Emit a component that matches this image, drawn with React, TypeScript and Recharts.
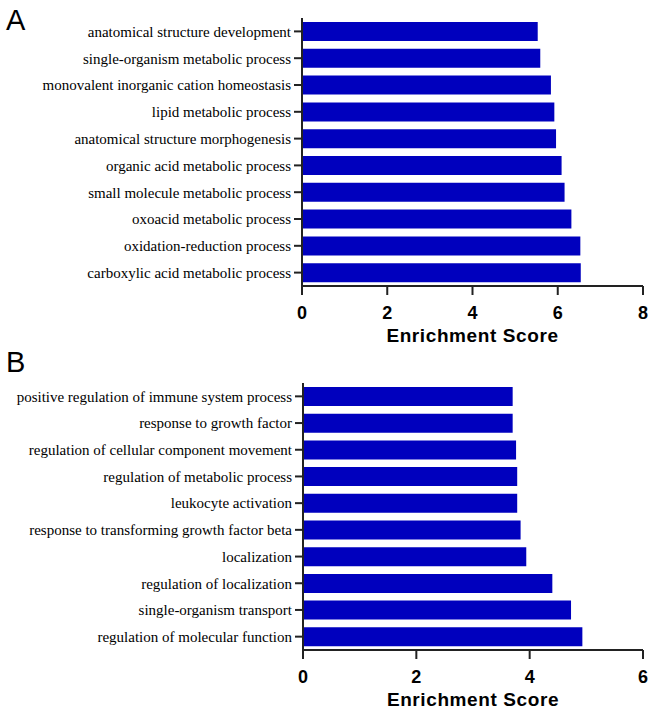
import React from 'react';
import { BarChart, Bar, XAxis, YAxis } from 'recharts';

const categoriesA = [
  'anatomical structure development',
  'single-organism metabolic process',
  'monovalent inorganic cation homeostasis',
  'lipid metabolic process',
  'anatomical structure morphogenesis',
  'organic acid metabolic process',
  'small molecule metabolic process',
  'oxoacid metabolic process',
  'oxidation-reduction process',
  'carboxylic acid metabolic process',
];
const scoresA = [5.53, 5.59, 5.84, 5.92, 5.96, 6.09, 6.16, 6.32, 6.53, 6.54];
const ticksA = [0, 2, 4, 6, 8];

const categoriesB = [
  'positive regulation of immune system process',
  'response to growth factor',
  'regulation of cellular component movement',
  'regulation of metabolic process',
  'leukocyte activation',
  'response to transforming growth factor beta',
  'localization',
  'regulation of localization',
  'single-organism transport',
  'regulation of molecular function',
];
const scoresB = [3.70, 3.70, 3.76, 3.78, 3.78, 3.84, 3.94, 4.40, 4.73, 4.93];
const ticksB = [0, 2, 4, 6];

const dataA = categoriesA.map((name, i) => ({ name, value: scoresA[i] }));
const dataB = categoriesB.map((name, i) => ({ name, value: scoresB[i] }));

const BAR_COLOR = '#0000BE';
const AXIS_COLOR = '#222';

const titleLabel = (props: any) => {
  const vb = props.viewBox || {};
  return (
    <text
      x={vb.x + vb.width / 2}
      y={vb.y + 56}
      textAnchor="middle"
      fontFamily="Liberation Sans, Arial, sans-serif"
      fontWeight="bold"
      fontSize={19}
      letterSpacing={0.6}
      fill="#000"
    >
      Enrichment Score
    </text>
  );
};

function Panel({ data, ticks, max, marginTop, yWidth }: any) {
  return (
    <BarChart
      width={649}
      height={357}
      data={data}
      layout="vertical"
      margin={{ top: marginTop, right: 6, bottom: 0, left: 0 }}
      barSize={19}
    >
      <XAxis
        type="number"
        domain={[0, max]}
        ticks={ticks}
        height={64}
        axisLine={{ stroke: AXIS_COLOR, strokeWidth: 2 }}
        tickLine={{ stroke: AXIS_COLOR, strokeWidth: 2 }}
        tickSize={9}
        tickMargin={11}
        tick={{ fill: '#000', fontSize: 18, fontWeight: 'bold', fontFamily: 'Liberation Sans, Arial, sans-serif' }}
        label={titleLabel}
      />
      <YAxis
        type="category"
        dataKey="name"
        width={yWidth}
        axisLine={{ stroke: AXIS_COLOR, strokeWidth: 2 }}
        tickLine={{ stroke: AXIS_COLOR, strokeWidth: 2 }}
        tickSize={8}
        tickMargin={3}
        interval={0}
        tick={{ fill: '#000', fontSize: 15, fontFamily: 'Liberation Serif, Times New Roman, serif' }}
      />
      <Bar dataKey="value" fill={BAR_COLOR} isAnimationActive={false} />
    </BarChart>
  );
}

export default function App() {
  return (
    <div style={{ position: 'absolute', left: 0, top: 0, width: 649, height: 714, background: '#fff' }}>
      <div style={{ position: 'absolute', left: 0, top: -7 }}>
        <Panel data={dataA} ticks={ticksA} max={8} marginTop={25} yWidth={302} />
      </div>
      <div style={{ position: 'absolute', left: 0, top: 357 }}>
        <Panel data={dataB} ticks={ticksB} max={6} marginTop={26} yWidth={303} />
      </div>
      <div style={{ position: 'absolute', left: 6, top: 4, fontFamily: 'Liberation Sans, Arial, sans-serif', fontSize: 29, lineHeight: '32px', color: '#000' }}>A</div>
      <div style={{ position: 'absolute', left: 6, top: 346, fontFamily: 'Liberation Sans, Arial, sans-serif', fontSize: 29, lineHeight: '32px', color: '#000' }}>B</div>
    </div>
  );
}
